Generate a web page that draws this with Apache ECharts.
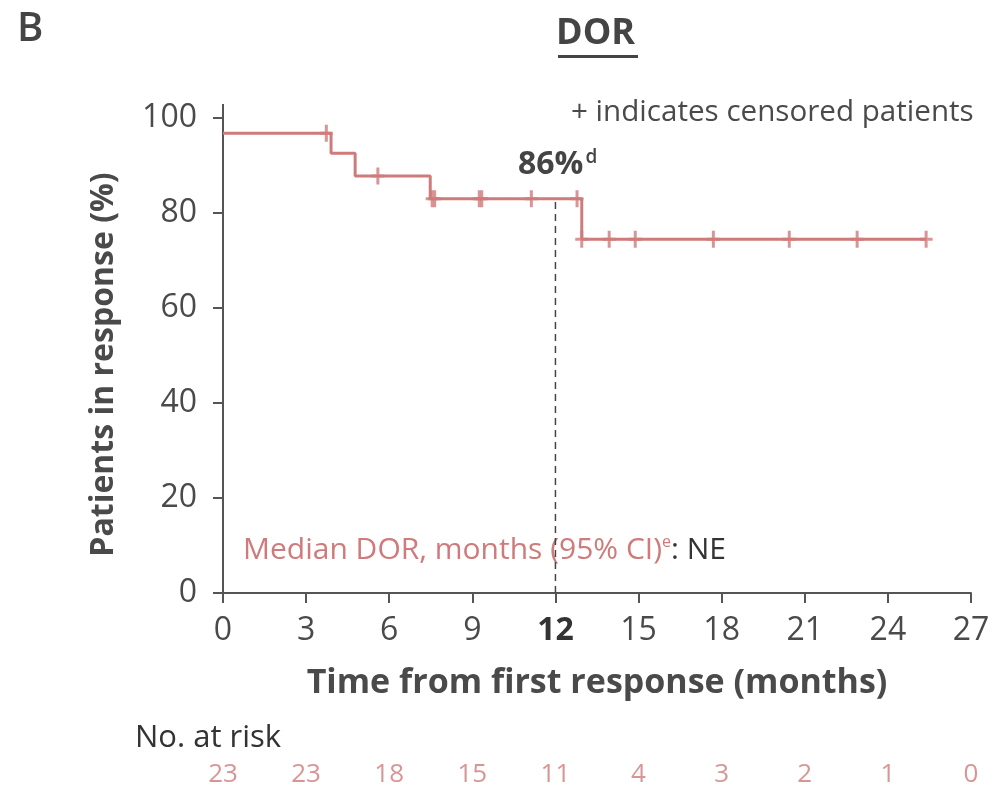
<!DOCTYPE html>
<html>
<head>
<meta charset="utf-8">
<script src="https://cdn.jsdelivr.net/npm/echarts@6/dist/echarts.min.js"></script>
<style>html,body{margin:0;padding:0;background:#fff}#c{width:997px;height:789px}</style>
</head>
<body>
<div id="c"></div>
<script>
// ---- data ----
const eventTimes = [0, 3.9, 4.77, 7.48, 12.95];
const survival = [96.8, 92.6, 87.8, 83.0, 74.5];
const lastTime = 25.38;
const censorTimes = [3.73, 5.59, 7.55, 7.64, 9.25, 9.34, 11.13, 12.78, 12.95, 13.94, 14.88, 17.7, 20.44, 22.89, 25.38];
const xTicks = [0, 3, 6, 9, 12, 15, 18, 21, 24, 27];
const atRisk = [23, 23, 18, 15, 11, 4, 3, 2, 1, 0];
const landmarkTime = 12;
const landmarkLabel = '86%';

// ---- build ----
const FONT = 'Open Sans';
const PINK = '#cf7b7b';
const TXT = '#4a4a4a';
function survAt(t) {
  let v = survival[0];
  for (let i = 0; i < eventTimes.length; i++) if (eventTimes[i] <= t) v = survival[i];
  return v;
}
const kmData = eventTimes.map((t, i) => [t, survival[i]]);
kmData.push([lastTime, survival[survival.length - 1]]);
const censorData = censorTimes.map(t => [t, survAt(t)]);
const riskData = xTicks.map((t, i) => [t, 0.5, atRisk[i]]);
const plusPath = 'path://M5,0h3v7h5v3h-5v7h-3v-7h-5v-3h5z';

const chart = echarts.init(document.getElementById('c'), null, {renderer: 'canvas'});
chart.setOption({
  animation: false,
  backgroundColor: '#fff',
  grid: [
    {left: 223, right: 26, top: 118, bottom: 196, containLabel: false},
    {left: 223, right: 26, top: 761, height: 30}
  ],
  xAxis: [{
    gridIndex: 0, type: 'value', min: 0, max: 27, interval: 3,
    name: 'Time from first response (months)', nameLocation: 'middle', nameGap: 73,
    nameTextStyle: {fontFamily: FONT, fontSize: 34, fontWeight: 'bold', color: TXT},
    axisLine: {show: true, onZero: false, lineStyle: {color: '#555', width: 2}},
    axisTick: {show: true, length: 10, lineStyle: {color: '#555', width: 2}},
    splitLine: {show: false},
    axisLabel: {
      fontFamily: FONT, fontSize: 32, color: TXT, margin: 22,
      formatter: v => v === landmarkTime ? '{b|' + v + '}' : String(v),
      rich: {b: {fontFamily: FONT, fontSize: 32, fontWeight: 'bold', color: '#333'}}
    }
  }, {
    gridIndex: 1, type: 'value', min: 0, max: 27, show: false
  }],
  yAxis: [{
    gridIndex: 0, type: 'value', min: 0, max: 100, interval: 20,
    name: 'Patients in response (%)', nameLocation: 'middle', nameGap: 103,
    nameTextStyle: {fontFamily: FONT, fontSize: 32, fontWeight: 'bold', color: TXT, padding: [0, 18, 0, 0]},
    axisLine: {show: true, lineStyle: {color: '#555', width: 2}},
    axisTick: {show: true, length: 10, lineStyle: {color: '#555', width: 2}},
    splitLine: {show: false},
    axisLabel: {fontFamily: FONT, fontSize: 32, color: TXT, margin: 26}
  }, {
    gridIndex: 1, type: 'value', min: 0, max: 1, show: false
  }],
  series: [
    {
      type: 'line', xAxisIndex: 0, yAxisIndex: 0, step: 'end', data: kmData,
      showSymbol: false, lineStyle: {color: PINK, width: 3}, z: 3
    },
    {
      type: 'scatter', xAxisIndex: 0, yAxisIndex: 0, data: censorData,
      symbol: plusPath, symbolSize: [13, 17], itemStyle: {color: PINK}, z: 4
    },
    {
      type: 'line', xAxisIndex: 0, yAxisIndex: 0,
      data: [[landmarkTime, 0], [landmarkTime, survAt(landmarkTime)]],
      showSymbol: false, lineStyle: {color: '#444', width: 1.5, type: [7, 5]}, z: 2
    },
    {
      type: 'scatter', xAxisIndex: 1, yAxisIndex: 1, data: riskData,
      symbolSize: 1, itemStyle: {color: 'rgba(0,0,0,0)'},
      label: {show: true, position: 'inside', formatter: p => String(p.value[2]),
        fontFamily: FONT, fontSize: 26, color: PINK}
    }
  ],
  graphic: [
    {type: 'rect', shape: {x: 222, y: 104, width: 2, height: 15}, style: {fill: '#555'}},
    {type: 'text', left: 17, top: 10, style: {text: 'B', fontFamily: FONT, fontSize: 40, fontWeight: 600, fill: '#444'}},
    {type: 'text', left: 556, top: 16, style: {text: 'DOR', fontFamily: FONT, fontSize: 36, fontWeight: 'bold', fill: '#444'}},
    {type: 'rect', shape: {x: 558, y: 55, width: 80, height: 3}, style: {fill: '#444'}},
    {type: 'text', left: 571, top: 98, style: {text: '+ indicates censored patients', fontFamily: FONT, fontSize: 29.6, fill: TXT}},
    {type: 'text', left: 518, top: 148, style: {
      text: '{a|' + landmarkLabel + '}{s|d}',
      rich: {a: {fontFamily: FONT, fontSize: 32, fontWeight: 'bold', fill: '#444'},
             s: {fontFamily: FONT, fontSize: 19, fontWeight: 600, fill: '#444', padding: [0, 0, 14, 2]}}}},
    {type: 'text', left: 243, top: 534, style: {
      text: '{p|Median DOR, months (95% CI)}{s|e}{k|: NE}',
      rich: {p: {fontFamily: FONT, fontSize: 30, fill: PINK},
             s: {fontFamily: FONT, fontSize: 16, fill: PINK, padding: [0, 0, 16, 0]},
             k: {fontFamily: FONT, fontSize: 30, fill: '#333'}}}},
    {type: 'text', left: 135, top: 723, style: {text: 'No. at risk', fontFamily: FONT, fontSize: 31, fill: '#333'}}
  ]
});
</script>
</body>
</html>
